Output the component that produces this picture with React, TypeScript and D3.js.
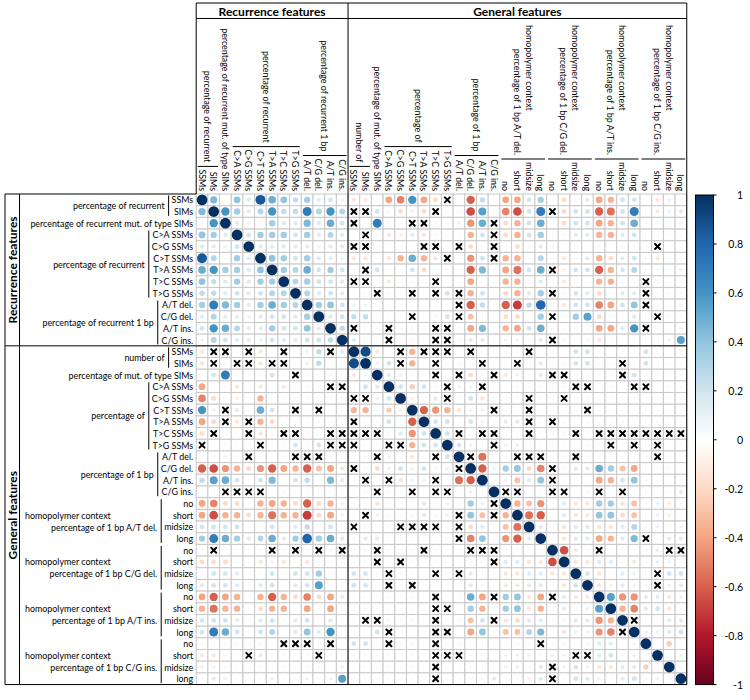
import React, { useMemo } from "react";
import * as d3 from "d3";

// ---------- labels ----------
const itemLabels: string[] = [
  "SSMs", "SIMs", "percentage of recurrent mut. of type SIMs",
  "C>A SSMs", "C>G SSMs", "C>T SSMs", "T>A SSMs", "T>C SSMs", "T>G SSMs",
  "A/T del.", "C/G del.", "A/T ins.", "C/G ins.",
  "SSMs", "SIMs", "percentage of mut. of type SIMs",
  "C>A SSMs", "C>G SSMs", "C>T SSMs", "T>A SSMs", "T>C SSMs", "T>G SSMs",
  "A/T del.", "C/G del.", "A/T ins.", "C/G ins.",
  "no", "short", "midsize", "long",
  "no", "short", "midsize", "long",
  "no", "short", "midsize", "long",
  "no", "short", "midsize", "long",
];

const groupStarts: number[] = [0, 3, 9, 13, 16, 22, 26, 30, 34, 38];
const groupEnds: number[] = [1, 8, 12, 14, 21, 25, 29, 33, 37, 41];
const groupTexts: string[][] = [
  ["percentage of recurrent"],
  ["percentage of recurrent"],
  ["percentage of recurrent 1 bp"],
  ["number of"],
  ["percentage of"],
  ["percentage of 1 bp"],
  ["homopolymer context", "percentage of 1 bp A/T del."],
  ["homopolymer context", "percentage of 1 bp C/G del."],
  ["homopolymer context", "percentage of 1 bp A/T ins."],
  ["homopolymer context", "percentage of 1 bp C/G ins."],
];

const sectionNames: string[] = ["Recurrence features", "General features"];
const sectionSizes: number[] = [13, 29];

const colorbarTicks: number[] = [1, 0.8, 0.6, 0.4, 0.2, 0, -0.2, -0.4, -0.6, -0.8, -1];
const palette: string[] = ["#67001F", "#B2182B", "#D6604D", "#F4A582", "#FDDBC7", "#FFFFFF", "#D1E5F0", "#92C5DE", "#4393C3", "#2166AC", "#053061"];

// ---------- correlation values (lower triangle, null = not significant) ----------
const corrLower: (number | null)[][] = [
  [1],
  [0.45, 1],
  [0.05, 0.6, 1],
  [0.4, 0.35, 0.15, 1],
  [0.15, 0.15, 0.1, 0.2, 1],
  [0.85, 0.3, 0.05, 0.35, 0.15, 1],
  [0.5, 0.6, 0.35, 0.35, 0.15, 0.4, 1],
  [0.4, 0.25, 0.15, 0.35, 0.15, 0.35, 0.35, 1],
  [0.25, 0.25, 0.15, 0.2, 0.15, 0.2, 0.3, 0.3, 1],
  [0.35, 0.7, 0.45, 0.35, 0.15, 0.35, 0.5, 0.35, 0.3, 1],
  [0.15, 0.3, 0.15, 0.15, 0.1, 0.15, 0.2, 0.2, 0.15, 0.35, 1],
  [0.2, 0.6, 0.5, 0.3, 0.15, 0.15, 0.35, 0.2, 0.2, 0.4, 0.15, 1],
  [0.1, 0.3, 0.2, 0.15, 0.15, 0.1, 0.2, 0.15, 0.15, 0.2, 0.2, 0.25, 1],
  [-0.15, null, null, 0.05, null, -0.15, 0.05, null, 0.05, 0.1, 0.25, null, 0.15, 1],
  [-0.15, null, 0.05, null, null, -0.15, null, null, 0.05, 0.1, 0.25, 0.05, 0.05, 0.9, 1],
  [0.05, 0.2, 0.7, 0.05, 0.05, 0.05, 0.2, 0.05, null, 0.05, 0.05, 0.05, 0.05, -0.15, 0.1, 1],
  [-0.4, 0.05, 0.05, -0.15, 0.05, -0.15, 0.05, -0.15, 0.05, 0.05, 0.05, null, null, 0.05, 0.2, 0.15, 1],
  [-0.5, -0.2, 0.05, -0.1, 0.05, -0.35, 0.05, 0.05, 0.05, 0.05, 0.05, 0.05, 0.05, null, null, 0.1, 0.2, 1],
  [0.6, 0.1, null, 0.15, 0.05, 0.5, 0.2, 0.05, null, 0.05, null, 0.05, 0.05, -0.35, -0.35, 0.05, -0.25, -0.1, 1],
  [-0.4, -0.2, null, -0.15, null, -0.35, -0.2, 0.05, 0.05, 0.05, 0.05, 0.05, 0.05, null, 0.05, 0.05, 0.2, 0.05, -0.6, 1],
  [-0.2, null, 0.05, 0.05, null, -0.15, 0.05, null, null, 0.05, 0.05, null, null, null, null, null, 0.05, 0.15, -0.45, 0.2, 1],
  [null, 0.05, 0.05, 0.05, 0.05, null, 0.05, 0.05, 0.2, 0.05, 0.2, null, null, null, 0.05, 0.05, null, null, -0.35, 0.2, 0.2, 1],
  [0.05, -0.05, -0.1, 0.05, null, 0.05, 0.05, 0.05, null, null, null, 0.05, 0.05, 0.05, 0.05, null, -0.1, 0.05, -0.15, 0.05, null, 0.2, 1],
  [-0.6, -0.65, -0.45, -0.35, -0.2, -0.45, -0.6, -0.4, -0.35, -0.6, -0.3, -0.4, -0.15, null, 0.05, -0.2, 0.1, 0.2, 0.1, 0.2, 0.05, 0.1, null, 1],
  [0.25, 0.55, 0.5, 0.2, 0.05, 0.2, 0.45, 0.05, 0.2, 0.25, 0.05, 0.45, 0.15, 0.05, null, 0.05, null, -0.15, 0.1, 0.1, null, 0.05, -0.55, -0.6, 1],
  [0.05, 0.05, null, null, null, null, 0.05, 0.05, 0.05, 0.05, 0.05, 0.05, 0.05, 0.05, 0.05, null, 0.05, 0.05, null, 0.05, null, null, 0.05, 0.1, 0.05, 1],
  [-0.4, -0.5, -0.2, -0.2, 0.05, -0.35, -0.4, -0.35, -0.2, -0.6, -0.2, -0.35, -0.1, 0.05, 0.05, -0.15, 0.05, 0.05, 0.05, 0.15, 0.05, 0.1, 0.05, 0.35, 0.1, null, 1],
  [-0.4, -0.65, -0.35, -0.35, -0.2, -0.35, -0.55, -0.35, -0.35, -0.7, -0.2, -0.4, -0.1, 0.05, null, -0.1, 0.05, 0.05, 0.05, 0.15, 0.05, -0.1, null, 0.4, -0.3, null, -0.35, 1],
  [0.2, 0.2, 0.2, 0.2, 0.05, 0.05, 0.2, 0.05, 0.15, 0.25, 0.05, 0.2, 0.05, null, 0.05, 0.05, 0.05, null, null, null, null, 0.05, null, -0.2, 0.15, 0.05, -0.3, -0.55, 1],
  [0.35, 0.7, 0.5, 0.35, 0.15, 0.3, 0.5, 0.15, 0.35, 0.8, 0.35, 0.5, 0.15, 0.05, 0.15, 0.15, 0.05, 0.05, 0.05, 0.05, 0.05, 0.05, null, -0.5, 0.4, 0.05, -0.45, -0.6, 0.15, 1],
  [0.05, null, 0.05, 0.05, 0.05, 0.05, null, 0.05, null, 0.05, null, 0.05, null, 0.05, 0.05, null, 0.05, 0.05, 0.05, null, 0.05, 0.05, 0.05, null, null, null, 0.05, 0.05, 0.05, 0.05, 1],
  [-0.2, -0.2, -0.2, 0.05, 0.05, -0.15, -0.1, -0.15, 0.05, -0.15, 0.05, 0.05, 0.05, 0.05, 0.05, null, 0.05, null, 0.05, 0.05, 0.05, 0.05, 0.05, 0.05, 0.05, null, 0.15, 0.15, -0.15, -0.15, -0.65, 1],
  [0.05, 0.2, 0.2, 0.15, 0.05, 0.05, 0.2, 0.05, 0.2, 0.2, 0.35, 0.05, 0.05, 0.2, 0.2, 0.05, null, 0.05, 0.05, 0.05, null, 0.05, null, 0.15, 0.05, 0.05, -0.15, -0.15, 0.15, 0.15, -0.15, -0.15, 1],
  [0.15, 0.2, 0.2, 0.15, 0.05, 0.15, 0.2, 0.05, 0.15, 0.2, 0.55, 0.05, 0.05, 0.2, 0.2, 0.05, null, 0.05, null, 0.05, 0.05, 0.05, 0.05, 0.15, 0.05, 0.05, -0.15, -0.15, 0.15, 0.15, 0.05, -0.15, 0.2, 1],
  [-0.4, -0.6, -0.4, -0.35, 0.05, -0.35, -0.6, -0.35, -0.2, -0.5, -0.2, -0.4, -0.15, 0.05, 0.05, 0.05, 0.05, 0.05, 0.05, 0.05, null, 0.05, 0.05, 0.5, -0.4, null, 0.35, 0.4, -0.15, -0.4, null, 0.15, -0.15, -0.15, 1],
  [-0.35, -0.55, -0.35, -0.35, 0.05, -0.2, -0.35, -0.35, 0.05, -0.4, 0.05, -0.4, 0.05, 0.05, 0.05, 0.05, 0.05, 0.05, 0.05, 0.05, null, null, 0.05, 0.35, -0.35, 0.05, 0.35, 0.4, -0.15, -0.35, 0.05, 0.15, 0.05, -0.1, 0.55, 1],
  [0.2, 0.2, 0.2, 0.15, 0.05, 0.15, 0.2, 0.05, 0.15, 0.2, 0.05, 0.15, 0.05, 0.05, null, null, 0.05, 0.05, 0.05, 0.05, null, 0.05, 0.05, -0.3, 0.2, null, -0.15, -0.2, 0.15, 0.15, 0.05, 0.05, 0.15, 0.15, -0.45, -0.35, 1],
  [0.2, 0.7, 0.5, 0.2, 0.05, 0.2, 0.3, 0.05, 0.15, 0.4, 0.15, 0.6, 0.05, 0.05, 0.05, 0.2, null, 0.05, 0.05, 0.05, null, null, 0.05, -0.4, 0.4, 0.05, -0.3, -0.3, 0.3, 0.45, 0.05, -0.15, 0.1, 0.1, -0.45, -0.5, null, 1],
  [-0.05, 0.05, 0.05, 0.05, 0.05, 0.05, 0.05, null, null, null, 0.05, null, 0.05, 0.2, 0.2, 0.05, null, 0.05, 0.05, 0.05, null, 0.05, 0.05, 0.05, 0.05, 0.05, 0.05, 0.05, 0.05, null, 0.05, 0.05, 0.05, 0.05, 0.15, 0.15, 0.05, 0.1, 1],
  [-0.15, -0.15, 0.05, 0.05, null, -0.15, 0.05, 0.05, 0.05, 0.05, null, 0.05, 0.05, 0.05, 0.05, 0.05, 0.05, 0.05, 0.05, 0.05, null, null, null, 0.05, 0.05, 0.05, 0.1, 0.1, 0.1, 0.05, 0.1, 0.1, null, null, 0.15, 0.2, 0.05, 0.1, 0.05, 1],
  [0.1, 0.1, 0.05, 0.05, 0.05, 0.05, 0.05, 0.05, 0.05, 0.05, 0.05, 0.05, 0.1, 0.05, 0.05, 0.05, 0.05, 0.05, 0.05, 0.05, null, 0.05, 0.05, 0.05, 0.05, 0.05, -0.1, -0.1, 0.05, 0.15, null, 0.1, 0.2, 0.1, -0.15, -0.15, 0.15, 0.15, -0.25, 0.05, 1],
  [0.05, 0.15, 0.1, 0.05, 0.05, 0.05, 0.1, 0.05, 0.05, 0.1, 0.05, 0.1, 0.55, 0.05, 0.05, 0.05, 0.05, 0.05, 0.05, 0.05, null, 0.05, 0.05, 0.05, 0.05, 0.15, 0.05, 0.05, -0.1, 0.15, null, 0.05, 0.2, 0.15, -0.1, 0.05, 0.15, 0.2, 0.05, 0.1, 0.05, 1],
];

const FONT = "Lato, 'Open Sans', sans-serif";

function useMeasure() {
  return useMemo(() => {
    const ctx = document.createElement("canvas").getContext("2d")!;
    return (txt: string, size: number, weight = "normal") => {
      ctx.font = `${weight} ${size}px Lato`;
      return ctx.measureText(txt).width;
    };
  }, []);
}

export default function App() {
  const n = itemLabels.length;
  const cell = 11.68;
  const x0 = 196.2;
  const y0 = 194;
  const itemSize = 8.9;
  const groupSize = 8.9;
  const bigSize = 12;
  const measure = useMeasure();

  const idx = d3.range(n);
  const xs = d3.scaleBand<number>().domain(idx).range([x0, x0 + n * cell]);
  const ys = d3.scaleBand<number>().domain(idx).range([y0, y0 + n * cell]);
  const xEnd = x0 + n * cell;
  const yEnd = y0 + n * cell;
  const color = d3
    .scaleLinear<string>()
    .domain(d3.range(11).map((i) => -1 + i * 0.2))
    .range(palette)
    .interpolate(d3.interpolateRgb)
    .clamp(true);
  const rScale = d3.scaleSqrt().domain([0, 1]).range([0, cell * 0.46]);

  const val = (i: number, j: number) => (i >= j ? corrLower[i][j] : corrLower[j][i]);
  const cells = d3.cross(idx, idx).map(([i, j]) => ({ i, j, v: val(i, j) }));

  const secBoundary = x0 + sectionSizes[0] * cell;
  const secBoundaryY = y0 + sectionSizes[0] * cell;

  // colorbar
  const cbX = 695.5;
  const cbW = 18;
  const cbScale = d3.scaleLinear().domain([1, -1]).range([y0 + 1, yEnd]);
  const gradStops = d3.range(0, 1.0001, 0.05).map((t) => ({ t, c: color(1 - 2 * t) }));

  const itemRight = x0 - 3;
  const itemBottom = y0 - 3;

  return (
    <svg width={750} height={700} style={{ position: "absolute", left: 0, top: 0, background: "#fff" }} fontFamily={FONT}>
      <defs>
        <linearGradient id="cbgrad" x1="0" y1="0" x2="0" y2="1">
          {gradStops.map((s) => (
            <stop key={s.t} offset={s.t} stopColor={s.c} />
          ))}
        </linearGradient>
      </defs>

      {/* grid cells */}
      <g>
        {cells.map((c) => (
          <rect key={`g${c.i}-${c.j}`} x={xs(c.j)!} y={ys(c.i)!} width={cell} height={cell} fill="#fff" stroke="#c8c8c8" strokeWidth={1} />
        ))}
      </g>
      {/* circles */}
      <g>
        {cells
          .filter((c) => c.v !== null)
          .map((c) => (
            <circle
              key={`c${c.i}-${c.j}`}
              cx={xs(c.j)! + cell / 2}
              cy={ys(c.i)! + cell / 2}
              r={rScale(Math.abs(c.v as number))}
              fill={color(c.v as number)}
            />
          ))}
      </g>
      {/* insignificant crosses */}
      <g stroke="#000" strokeWidth={2} strokeLinecap="round">
        {cells
          .filter((c) => c.v === null)
          .map((c) => {
            const cx = xs(c.j)! + cell / 2;
            const cy = ys(c.i)! + cell / 2;
            const d = 2.5;
            return (
              <g key={`x${c.i}-${c.j}`}>
                <line x1={cx - d} y1={cy - d} x2={cx + d} y2={cy + d} />
                <line x1={cx - d} y1={cy + d} x2={cx + d} y2={cy - d} />
              </g>
            );
          })}
      </g>

      {/* frames */}
      <g stroke="#000" strokeWidth={1} fill="none">
        <line x1={x0} y1={3} x2={xEnd} y2={3} />
        <line x1={x0} y1={18.5} x2={xEnd} y2={18.5} />
        <line x1={x0} y1={3} x2={x0} y2={y0} />
        <line x1={secBoundary} y1={3} x2={secBoundary} y2={yEnd} />
        <line x1={xEnd} y1={3} x2={xEnd} y2={yEnd} />
        <line x1={5} y1={y0} x2={x0} y2={y0} />
        <line x1={5} y1={y0} x2={5} y2={yEnd} />
        <line x1={19.5} y1={y0} x2={19.5} y2={yEnd} />
        <line x1={5} y1={secBoundaryY} x2={xEnd} y2={secBoundaryY} />
        <line x1={5} y1={yEnd} x2={xEnd} y2={yEnd} />
      </g>

      {/* section titles */}
      {sectionNames.map((name, k) => {
        const startIdx = k === 0 ? 0 : sectionSizes[0];
        const cStart = x0 + startIdx * cell;
        const cMid = cStart + (sectionSizes[k] * cell) / 2;
        const rMid = y0 + startIdx * cell + (sectionSizes[k] * cell) / 2;
        return (
          <g key={name} fontWeight="bold" fontSize={bigSize} fill="#000">
            <text x={cMid} y={11} textAnchor="middle" dominantBaseline="central">
              {name}
            </text>
            <text transform={`translate(12.5,${rMid}) rotate(-90)`} textAnchor="middle" dominantBaseline="central">
              {name}
            </text>
          </g>
        );
      })}

      {/* item labels: rows and columns */}
      <g fontSize={itemSize} fill="#000">
        {itemLabels.map((lab, i) => (
          <text key={`rl${i}`} x={itemRight} y={ys(i)! + cell / 2} textAnchor="end" dominantBaseline="central">
            {lab}
          </text>
        ))}
        {itemLabels.map((lab, i) => (
          <text
            key={`cl${i}`}
            transform={`translate(${xs(i)! + cell / 2},${itemBottom}) rotate(90)`}
            textAnchor="end"
            dominantBaseline="central"
          >
            {lab}
          </text>
        ))}
      </g>

      {/* group labels with bars */}
      <g fontSize={groupSize} fill="#000">
        {groupStarts.map((s, g) => {
          const e = groupEnds[g];
          const maxW = d3.max(d3.range(s, e + 1), (k) => measure(itemLabels[k], itemSize)) || 0;
          const barX = itemRight - maxW - 3;
          const barY = itemBottom - maxW - 3;
          const rTop = ys(s)! + 1.5;
          const rBot = ys(e)! + cell - 1.5;
          const rMid = (ys(s)! + ys(e)! + cell) / 2;
          const cL = xs(s)! + 1.5;
          const cR = xs(e)! + cell - 1.5;
          const cMid = (xs(s)! + xs(e)! + cell) / 2;
          const lines = groupTexts[g];
          return (
            <g key={`grp${g}`}>
              <line x1={barX} y1={rTop} x2={barX} y2={rBot} stroke="#000" strokeWidth={1} />
              <line x1={cL} y1={barY} x2={cR} y2={barY} stroke="#000" strokeWidth={1} />
              {lines.length === 1 ? (
                <>
                  <text x={barX - 4} y={rMid} textAnchor="end" dominantBaseline="central">
                    {lines[0]}
                  </text>
                  <text transform={`translate(${cMid},${barY - 4}) rotate(90)`} textAnchor="end" dominantBaseline="central">
                    {lines[0]}
                  </text>
                </>
              ) : (
                <>
                  <text x={25} y={rMid - 6} textAnchor="start" dominantBaseline="central">
                    {lines[0]}
                  </text>
                  <text x={barX - 4} y={rMid + 6} textAnchor="end" dominantBaseline="central">
                    {lines[1]}
                  </text>
                  <text transform={`translate(${cMid + 6},25) rotate(90)`} textAnchor="start" dominantBaseline="central">
                    {lines[0]}
                  </text>
                  <text transform={`translate(${cMid - 6},${barY - 4}) rotate(90)`} textAnchor="end" dominantBaseline="central">
                    {lines[1]}
                  </text>
                </>
              )}
            </g>
          );
        })}
      </g>

      {/* colorbar */}
      <rect x={cbX} y={y0 + 1} width={cbW} height={yEnd - y0 - 1} fill="url(#cbgrad)" stroke="#000" strokeWidth={1} />
      <g fontSize={10.5} fill="#000">
        {colorbarTicks.map((t) => (
          <g key={`t${t}`}>
            <line x1={cbX + cbW} x2={cbX + cbW + 3} y1={cbScale(t)} y2={cbScale(t)} stroke="#000" />
            <text x={743} y={cbScale(t)} textAnchor="end" dominantBaseline="central">
              {String(t)}
            </text>
          </g>
        ))}
      </g>
    </svg>
  );
}
